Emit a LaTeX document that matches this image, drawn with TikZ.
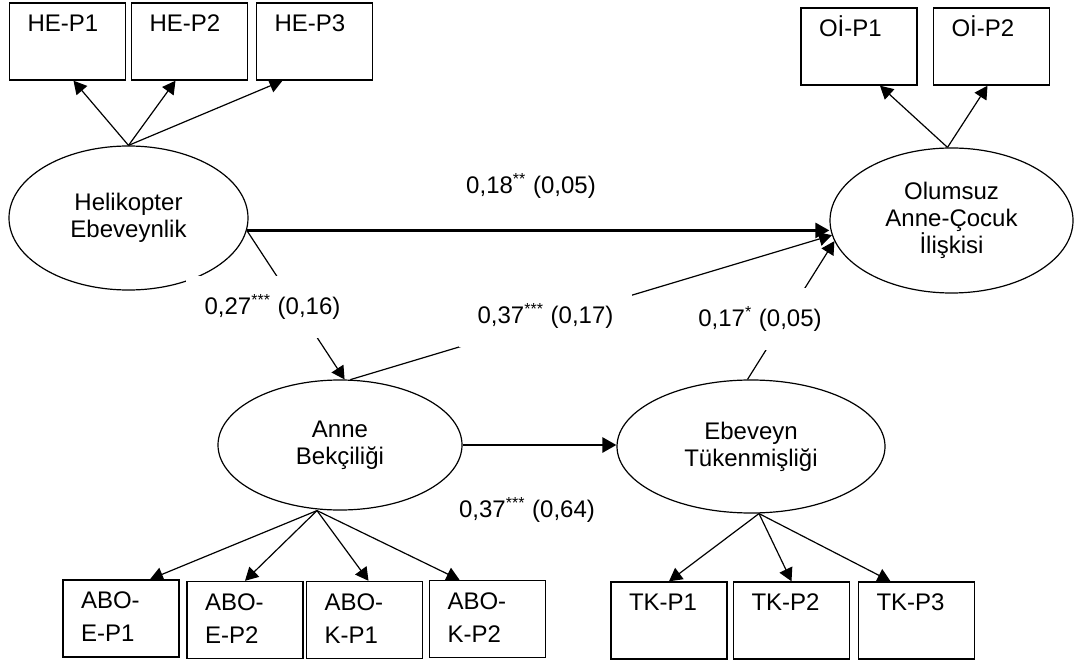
\documentclass[tikz,border=0pt]{standalone}
\usepackage{fontspec}
\setmainfont{Liberation Sans}
\usetikzlibrary{arrows.meta,shapes.geometric}

\begin{document}
\begin{tikzpicture}[x=0.5pt, y=-0.5pt,
  every node/.style={font=\fontsize{12}{13.5}\selectfont},
  gizil/.style={draw, ellipse, line width=0.6pt, inner sep=0pt, align=center},
  kutu/.style={draw, line width=0.7pt, minimum width=58pt, minimum height=38.5pt,
               inner sep=0pt, text width=40pt, align=left,
               font=\fontsize{12}{16.5}\selectfont},
  yuk/.style={-{Triangle[length=6.5pt,width=7pt]}, line width=0.6pt},
  yol/.style={-{Triangle[length=7pt,width=7.5pt]}, line width=1.3pt},
  katsayi/.style={inner sep=2pt},
  kesik/.style={fill=white, inner sep=9.5pt}]
\useasboundingbox (0,0) rectangle (1075,662);

% gizil degiskenler
\node[gizil, minimum width=119.5pt, minimum height=72pt] (he) at (128.5,218) {Helikopter\\Ebeveynlik};
\node[gizil, minimum width=121.5pt, minimum height=72.5pt] (oi) at (951.5,220.5) {Olumsuz\\Anne-Çocuk\\İlişkisi};
\node[gizil, minimum width=122pt, minimum height=65pt] (ab) at (340,445) {Anne\\Bekçiliği};
\node[gizil, minimum width=134pt, minimum height=66.5pt] (tk) at (751,446.5) {Ebeveyn\\Tükenmişliği};

% gostergeler
\node[kutu] (he1) at (67.5,41.5) {\strut HE-P1\\\strut};
\node[kutu] (he2) at (189.5,41.5) {\strut HE-P2\\\strut};
\node[kutu] (he3) at (314.5,41.5) {\strut HE-P3\\\strut};
\node[kutu] (oi1) at (859,46.5) {\strut Oİ-P1\\\strut};
\node[kutu] (oi2) at (991.5,46.5) {\strut Oİ-P2\\\strut};
\node[kutu] (abo1) at (121,618.5) {\strut ABO-\\\strut E-P1};
\node[kutu] (abo2) at (245,620) {\strut ABO-\\\strut E-P2};
\node[kutu] (abo3) at (364.5,620) {\strut ABO-\\\strut K-P1};
\node[kutu] (abo4) at (487.5,619) {\strut ABO-\\\strut K-P2};
\node[kutu] (tk1) at (669,620.5) {\strut TK-P1\\\strut};
\node[kutu] (tk2) at (791.5,620.5) {\strut TK-P2\\\strut};
\node[kutu] (tk3) at (916.5,620.5) {\strut TK-P3\\\strut};

% olcum yukleri
\foreach \b/\s in {he1/3pt, he2/-7pt, he3/-16pt}
  \draw[yuk] (he.north) -- ([xshift=\s]\b.south);
\foreach \b/\s in {oi1/10.5pt, oi2/-2pt}
  \draw[yuk] ([xshift=-2pt]oi.north) -- ([xshift=\s]\b.south);
\foreach \b/\s in {abo1/14.5pt, abo2/0pt, abo3/2pt, abo4/-14pt}
  \draw[yuk] ([xshift=-11.5pt]ab.south) -- ([xshift=\s]\b.north);
\foreach \b/\s in {tk1/0pt, tk2/0pt, tk3/-13pt}
  \draw[yuk] ([xshift=4pt]tk.south) -- ([xshift=\s]\b.north);

% yapisal yollar
\draw[yol] (he.354) -- (he.354 -| oi.west);
\draw[yuk] (he.354) -- (ab.86);
\draw[yuk] (ab.81) -- (oi.187);
\draw[yuk] (tk.93) -- (oi.190);
\draw[yol] (ab.east) -- (ab.east -| tk.west);

% katsayilar
\node[katsayi] (k1) at (531,186) {0,18\textsuperscript{**} (0,05)};
\node[kesik] (k2) at (272.5,307) {0,27\textsuperscript{***} (0,16)};
\node[kesik] (k3) at (545.5,316) {0,37\textsuperscript{***} (0,17)};
\node[kesik] (k4) at (760,319) {0,17\textsuperscript{*} (0,05)};
\node[katsayi] (k5) at (527,510) {0,37\textsuperscript{***} (0,64)};
\end{tikzpicture}
\end{document}
